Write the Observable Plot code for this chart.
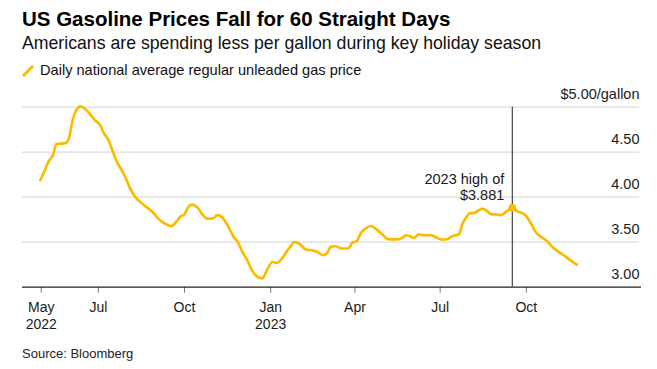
<!DOCTYPE html>
<html>
<head>
<meta charset="utf-8">
<script src="https://cdn.jsdelivr.net/npm/d3@7"></script>
<script src="https://cdn.jsdelivr.net/npm/@observablehq/plot@0.6"></script>
<style>
  html, body { margin: 0; padding: 0; background: #fff; }
  body { width: 657px; height: 369px; position: relative; overflow: hidden; font-family: "Liberation Sans", Arial, sans-serif; color: #111; }
  .abs { position: absolute; left: 22px; white-space: nowrap; }
  #title { top: 5px; font-size: 20.5px; line-height: 28px; font-weight: bold; color: #000; }
  #subtitle { top: 33px; font-size: 17.7px; line-height: 21px; color: #111; }
  #legend { top: 61px; left: 21px; font-size: 14.6px; line-height: 18px; color: #111; }
  #legend svg { vertical-align: -2px; margin-right: 5px; }
  #chart { position: absolute; top: 84px; left: 0; }
  #source { top: 346px; font-size: 13px; line-height: 16px; color: #222; }
</style>
</head>
<body>
<div id="title" class="abs">US Gasoline Prices Fall for 60 Straight Days</div>
<div id="subtitle" class="abs">Americans are spending less per gallon during key holiday season</div>
<div id="legend" class="abs"><svg width="14" height="12"><line x1="2" y1="11" x2="12" y2="1" stroke="#fbbc00" stroke-width="3"/></svg>Daily national average regular unleaded gas price</div>
<div id="chart"></div>
<div id="source" class="abs">Source: Bloomberg</div>
<script>
const dates = [
  "2022-04-30","2022-05-04","2022-05-09","2022-05-14","2022-05-17","2022-05-27","2022-05-31","2022-06-03","2022-06-07","2022-06-12",
  "2022-06-17","2022-06-23","2022-06-27","2022-07-03","2022-07-07","2022-07-11","2022-07-16","2022-07-21","2022-07-27","2022-07-31",
  "2022-08-04","2022-08-10","2022-08-19","2022-08-29","2022-09-03","2022-09-09","2022-09-17","2022-09-21","2022-09-27","2022-10-01",
  "2022-10-05","2022-10-09","2022-10-15","2022-10-20","2022-10-25","2022-10-31","2022-11-05","2022-11-09","2022-11-16","2022-11-22",
  "2022-11-27","2022-12-02","2022-12-07","2022-12-12","2022-12-18","2022-12-23","2022-12-28","2023-01-03","2023-01-08","2023-01-13",
  "2023-01-19","2023-01-22","2023-01-26","2023-01-31","2023-02-08","2023-02-14","2023-02-20","2023-02-26","2023-03-03","2023-03-06",
  "2023-03-11","2023-03-18","2023-03-25","2023-03-29","2023-04-03","2023-04-07","2023-04-12","2023-04-18","2023-04-23","2023-04-30",
  "2023-05-07","2023-05-16","2023-05-22","2023-05-25","2023-05-30","2023-06-03","2023-06-08","2023-06-14","2023-06-21","2023-06-26",
  "2023-07-03","2023-07-09","2023-07-14","2023-07-21","2023-07-25","2023-07-28","2023-08-02","2023-08-06","2023-08-10","2023-08-15",
  "2023-08-20","2023-08-25","2023-08-30","2023-09-04","2023-09-09","2023-09-16","2023-09-21","2023-09-30","2023-10-06","2023-10-11",
  "2023-10-16","2023-10-23","2023-10-29","2023-11-03","2023-11-10","2023-11-17","2023-11-24"
];
const prices = [
  4.19,4.28,4.40,4.48,4.59,4.60,4.67,4.83,4.96,5.01,
  4.98,4.91,4.86,4.80,4.71,4.65,4.52,4.39,4.28,4.195,
  4.095,3.995,3.91,3.824,3.762,3.713,3.677,3.713,3.787,3.81,
  3.891,3.917,3.884,3.81,3.762,3.762,3.80,3.787,3.688,3.566,
  3.50,3.39,3.30,3.189,3.114,3.097,3.189,3.28,3.27,3.318,
  3.41,3.447,3.50,3.485,3.418,3.41,3.39,3.355,3.39,3.45,
  3.455,3.43,3.43,3.49,3.514,3.596,3.65,3.68,3.65,3.588,
  3.532,3.532,3.551,3.577,3.566,3.547,3.588,3.577,3.577,3.558,
  3.529,3.536,3.566,3.588,3.707,3.762,3.824,3.824,3.846,3.873,
  3.846,3.81,3.81,3.80,3.835,3.881,3.846,3.80,3.707,3.613,
  3.566,3.514,3.447,3.403,3.355,3.30,3.25
];
const yTicks = [3, 3.5, 4, 4.5, 5];
const yTickLabels = ["3.00", "3.50", "4.00", "4.50", "$5.00/gallon"];
const xTicks = ["2022-05-01","2022-07-01","2022-10-01","2023-01-01","2023-04-01","2023-07-01","2023-10-01"];
const xTickLabels = ["May\n2022","Jul","Oct","Jan\n2023","Apr","Jul","Oct"];
const xDomain = ["2022-04-11","2024-02-01"];
const peakDate = "2023-09-16";
const peakValue = 3.881;
const peakLabel = "2023 high of\n$3.881";

const parse = d3.utcParse("%Y-%m-%d");
const data = dates.map((d, i) => ({date: parse(d), price: prices[i]}));
const peak = [{date: parse(peakDate), price: peakValue, label: peakLabel}];
const lineColor = "#fbbc00";

const chart = Plot.plot({
  width: 657,
  height: 250,
  marginLeft: 22,
  marginRight: 16,
  marginTop: 22.7,
  marginBottom: 47.3,
  style: {fontFamily: "'Liberation Sans', Arial, sans-serif", fontSize: "14px", color: "#1a1a1a", background: "#fff"},
  x: {type: "utc", domain: xDomain.map(parse)},
  y: {domain: [3, 5], axis: null},
  marks: [
    Plot.ruleY(yTicks.filter(d => d > 3), {stroke: "#dcdcdc", strokeWidth: 1.2, insetRight: 2}),
    Plot.text(yTicks, {y: d => d, text: (d, i) => yTickLabels[i], frameAnchor: "right", textAnchor: "end", dx: -2, dy: -13, fontSize: 14.5, fill: "#1a1a1a"}),
    Plot.ruleX(peak, {x: "date", y1: yTicks[0], y2: yTicks[yTicks.length - 1], stroke: "#222", strokeWidth: 1}),
    Plot.lineY(data, {x: "date", y: "price", stroke: lineColor, strokeWidth: 2.7, curve: "monotone-x"}),
    Plot.dot(peak, {x: "date", y: "price", r: 3.8, fill: lineColor}),
    Plot.text(peak, {x: "date", y: "price", text: "label", textAnchor: "end", lineAnchor: "bottom", lineHeight: 1.1, dx: -8, dy: -8, fontSize: 14.5, fill: "#1a1a1a"}),
    Plot.axisX({ticks: xTicks.map(parse), tickFormat: (d, i) => xTickLabels[i], tickSize: 6, tickPadding: 7, stroke: "#777", fill: "#1a1a1a", fontSize: 14, lineHeight: 1.2, label: null}),
    Plot.ruleY([yTicks[0]], {stroke: "#222", strokeWidth: 1.2})
  ]
});
document.getElementById("chart").appendChild(chart);
</script>
</body>
</html>
